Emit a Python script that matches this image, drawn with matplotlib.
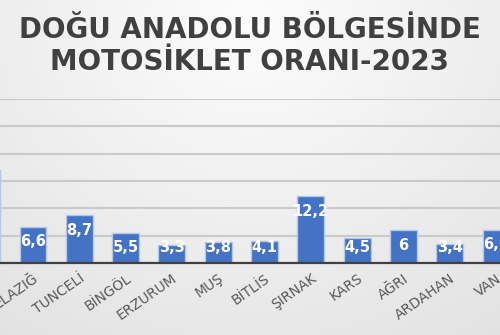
import matplotlib.pyplot as plt
import numpy as np

# data (first bar is cut off at the left edge)
provinces = ['MALATYA', 'ELAZIĞ', 'TUNCELİ', 'BİNGÖL', 'ERZURUM', 'MUŞ',
             'BİTLİS', 'ŞIRNAK', 'KARS', 'AĞRI', 'ARDAHAN', 'VAN']
rates = [17.0, 6.6, 8.7, 5.5, 3.3, 3.8, 4.1, 12.2, 4.5, 6.0, 3.4, 6.1]
y_ticks = [0, 5, 10, 15, 20, 25, 30]

fig = plt.figure(figsize=(5.0, 3.35), dpi=100)

# soft grey gradient background
bgax = fig.add_axes([0, 0, 1, 1], zorder=-10)
yy, xx = np.mgrid[0:335, 0:500]
d = np.sqrt(((xx - 250) / 420.0) ** 2 + ((yy - 20) / 380.0) ** 2)
bg = np.clip(0.99 - 0.10 * d, 0.86, 0.99)
bgax.imshow(np.dstack([bg, bg, bg]), aspect='auto', extent=[0, 1, 0, 1])
bgax.axis('off')

ax = fig.add_axes([0.0, 0.215, 1.0, 0.4896], zorder=1)
ax.patch.set_alpha(0)

x = np.arange(len(provinces))
xmin, xmax = 0.287, 11.086
bars = ax.bar(x, rates, width=0.58, color='#4472C4', edgecolor='#b4c7e7',
              linewidth=1.0, zorder=3)

ax.set_xlim(xmin, xmax)
ax.set_ylim(0, 30)
ax.set_yticks(y_ticks)
ax.yaxis.grid(True, color='#cacaca', linewidth=1.5, zorder=0)
ax.set_axisbelow(True)
ax.tick_params(axis='y', left=False, labelleft=False)
ax.tick_params(axis='x', length=0, pad=6)
for s in ['top', 'right', 'left']:
    ax.spines[s].set_visible(False)
ax.spines['bottom'].set_color('#404040')
ax.spines['bottom'].set_linewidth(1.6)
ax.spines['bottom'].set_zorder(4)

# only categories whose centre is inside the visible window get labels
shown = [i for i in x if xmin <= i <= xmax]
ax.set_xticks(shown)
ax.set_xticklabels([provinces[i] for i in shown], rotation=35, ha='right',
                   rotation_mode='anchor', fontsize=10, color='#595959')

for i in shown:
    v = rates[i]
    lab = ('%g' % v).replace('.', ',')
    ax.text(i, max(v - 2.75, 2.75), lab, ha='center', va='center',
            color='white', fontsize=10.5, fontweight='bold', zorder=5)

fig.text(0.5, 0.910, 'DOĞU ANADOLU BÖLGESİNDE', ha='center', va='center',
         fontsize=20, fontweight='bold', color='#404040')
fig.text(0.5, 0.815, 'MOTOSİKLET ORANI-2023', ha='center', va='center',
         fontsize=20, fontweight='bold', color='#404040')

fig.savefig('out.png', dpi=100)
